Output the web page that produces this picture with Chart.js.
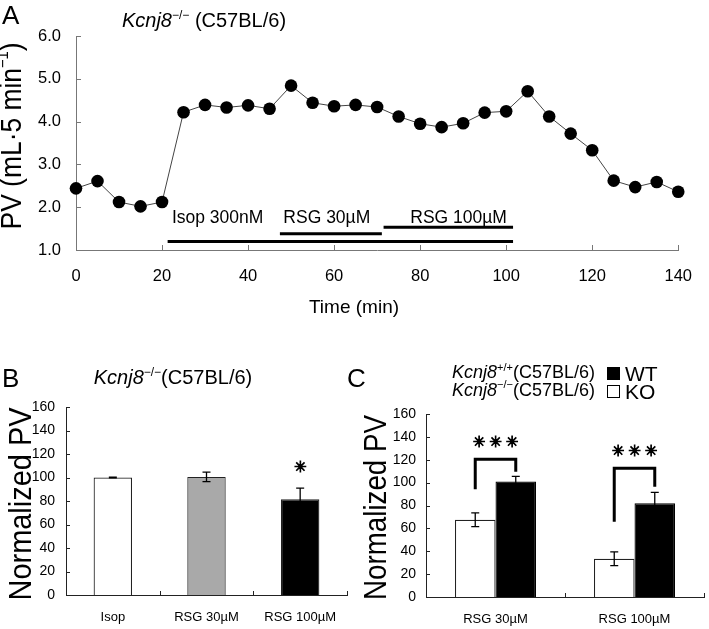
<!DOCTYPE html>
<html>
<head>
<meta charset="utf-8">
<script src="https://cdn.jsdelivr.net/npm/chart.js@4.4.0/dist/chart.umd.min.js"></script>
<style>
  body { margin: 0; background: #fff; width: 709px; height: 629px; position: relative; overflow: hidden; }
  canvas { position: absolute; }
  #chartA { left: 0; top: 0; }
  #chartB { left: 0; top: 300px; }
  #chartC { left: 340px; top: 300px; }
</style>
</head>
<body>
<canvas id="chartA" width="709" height="330"></canvas>
<canvas id="chartB" width="355" height="329"></canvas>
<canvas id="chartC" width="369" height="329"></canvas>
<script>
// panel A: perfusion volume over time
const times = [0, 5, 10, 15, 20, 25, 30, 35, 40, 45, 50, 55, 60, 65, 70, 75, 80, 85, 90, 95, 100, 105, 110, 115, 120, 125, 130, 135, 140];
const pv = [2.44, 2.61, 2.12, 2.02, 2.12, 4.22, 4.39, 4.33, 4.38, 4.30, 4.84, 4.44, 4.36, 4.39, 4.34, 4.12, 3.95, 3.87, 3.96, 4.21, 4.24, 4.71, 4.12, 3.72, 3.33, 2.62, 2.47, 2.59, 2.36];

// drug application periods (min)
const treatLabels = ['Isop 300nM', 'RSG 30µM', 'RSG 100µM'];
const treatStart = [21.3, 47.4, 71.5];
const treatEnd = [101.6, 71.1, 101.6];

// panel B
const bCats = ['Isop', 'RSG 30µM', 'RSG 100µM'];
const bMean = [100, 100.5, 81.5];
const bSem = [0.4, 4, 9.5];
const bSig = ['', '', '*'];

// panel C
const cCats = ['RSG 30µM', 'RSG 100µM'];
const koMean = [67.5, 33.5];
const koSem = [6, 6];
const wtMean = [101, 82];
const wtSem = [4.5, 9.5];

const FONT = "'Liberation Sans', Arial, sans-serif";
Chart.defaults.font.family = FONT;
Chart.defaults.color = '#000';

function rich(ctx, parts, x, y, align) {
  ctx.save();
  ctx.textBaseline = 'alphabetic';
  ctx.textAlign = 'left';
  ctx.fillStyle = '#000';
  let w = 0;
  parts.forEach(p => { ctx.font = p.f; p.w = ctx.measureText(p.t).width; w += p.w; });
  let sx = align === 'center' ? x - w / 2 : align === 'right' ? x - w : x;
  parts.forEach(p => { ctx.font = p.f; ctx.fillText(p.t, sx, y + (p.dy || 0)); sx += p.w; });
  ctx.restore();
}

// rotated title, stretched to a given length
function vTitle(ctx, parts, cx, cy, len) {
  ctx.save();
  ctx.translate(cx, cy);
  ctx.rotate(-Math.PI / 2);
  let w = 0;
  parts.forEach(p => { ctx.font = p.f; p.w = ctx.measureText(p.t).width; w += p.w; });
  ctx.scale(len / w, 1);
  ctx.fillStyle = '#000';
  ctx.textBaseline = 'middle';
  let sx = -w / 2;
  parts.forEach(p => { ctx.font = p.f; ctx.fillText(p.t, sx, p.dy || 0); sx += p.w; });
  ctx.restore();
}

function gene(size, sup) {
  return [
    { t: 'Kcnj8', f: 'italic ' + size + 'px ' + FONT },
    { t: sup, f: Math.round(size * 0.6) + 'px ' + FONT, dy: -size * 0.4 }
  ];
}

const innerTicks = {
  id: 'innerTicks',
  afterDraw(chart, args, opts) {
    const ctx = chart.ctx;
    const { left, right, bottom } = chart.chartArea;
    const xs = chart.scales.x, ys = chart.scales.y;
    ctx.save();
    ctx.strokeStyle = opts.color;
    ctx.lineWidth = 1;
    ctx.beginPath();
    ys.ticks.forEach(t => {
      const y = Math.round(ys.getPixelForValue(t.value)) + 0.5;
      ctx.moveTo(left, y); ctx.lineTo(left + opts.len, y);
    });
    if (xs.type === 'category') {
      const half = (right - left) / xs.ticks.length / 2;
      xs.ticks.forEach((t, i) => {
        const x = Math.round(xs.getPixelForTick(i) + half) + 0.5;
        ctx.moveTo(x, bottom); ctx.lineTo(x, bottom - opts.len);
      });
    } else {
      xs.ticks.forEach(t => {
        const x = Math.round(xs.getPixelForValue(t.value)) + 0.5;
        ctx.moveTo(x, bottom); ctx.lineTo(x, bottom - opts.len);
      });
    }
    ctx.stroke();
    ctx.restore();
  }
};

const errorBars = {
  id: 'errorBars',
  afterDatasetsDraw(chart, args, opts) {
    const ctx = chart.ctx, ys = chart.scales.y;
    ctx.save();
    ctx.strokeStyle = '#000';
    ctx.lineWidth = 1.3;
    chart.data.datasets.forEach((ds, di) => {
      chart.getDatasetMeta(di).data.forEach((bar, i) => {
        const m = ds.data[i], e = ds.sem[i];
        const yt = ys.getPixelForValue(m + e), yb = ys.getPixelForValue(m - e);
        ctx.beginPath();
        ctx.moveTo(bar.x, yt); ctx.lineTo(bar.x, yb);
        ctx.moveTo(bar.x - 4, yt); ctx.lineTo(bar.x + 4, yt);
        ctx.moveTo(bar.x - 4, yb); ctx.lineTo(bar.x + 4, yb);
        ctx.stroke();
      });
    });
    ctx.restore();
  }
};

function stars(ctx, n, x, y) {
  ctx.save();
  ctx.font = '15px "DejaVu Sans"';
  ctx.textAlign = 'center';
  ctx.textBaseline = 'middle';
  ctx.fillStyle = '#000';
  ctx.strokeStyle = '#000';
  ctx.lineWidth = 0.9;
  for (let i = 0; i < n; i++) {
    const sx = x + (i - (n - 1) / 2) * 16.5;
    ctx.fillText('✳', sx, y);
    ctx.strokeText('✳', sx, y);
  }
  ctx.restore();
}

// ---------- A ----------
const panelA = {
  id: 'panelA',
  afterDraw(chart) {
    const ctx = chart.ctx, xs = chart.scales.x, ys = chart.scales.y;
    const levels = [1.20, 1.38, 1.53];
    const labelX = [22.3, 48.2, 77.7];
    ctx.save();
    ctx.strokeStyle = '#000';
    ctx.lineWidth = 3;
    treatLabels.forEach((lab, i) => {
      const y = ys.getPixelForValue(levels[i]);
      ctx.beginPath();
      ctx.moveTo(xs.getPixelForValue(treatStart[i]), y);
      ctx.lineTo(xs.getPixelForValue(treatEnd[i]), y);
      ctx.stroke();
      rich(ctx, [{ t: lab, f: '17.5px ' + FONT }], xs.getPixelForValue(labelX[i]), ys.getPixelForValue(1.78) + 6.3, 'left');
    });
    ctx.restore();
    rich(ctx, [{ t: 'A', f: '26px ' + FONT }], 2, 24, 'left');
    rich(ctx, gene(20, '−/−').concat([{ t: ' (C57BL/6)', f: '20px ' + FONT }]), 204, 27, 'center');
    rich(ctx, [{ t: 'Time (min)', f: '19px ' + FONT }], 354, 312.5, 'center');
    vTitle(ctx, [
      { t: 'PV (mL·5 min', f: '29px ' + FONT },
      { t: '−1', f: '16px ' + FONT, dy: -9 },
      { t: ')', f: '29px ' + FONT }
    ], 13, 136, 187);
  }
};

new Chart(document.getElementById('chartA'), {
  type: 'line',
  data: {
    datasets: [{
      data: times.map((t, i) => ({ x: t, y: pv[i] })),
      borderColor: '#444',
      borderWidth: 1,
      pointRadius: 6.3,
      pointBackgroundColor: '#000',
      pointBorderColor: '#000',
      pointBorderWidth: 0,
      tension: 0,
      clip: false
    }]
  },
  options: {
    responsive: false,
    animation: false,
    events: [],
    layout: { padding: { top: 36, right: 26, left: 0, bottom: 0 } },
    plugins: { legend: { display: false }, tooltip: { enabled: false }, innerTicks: { len: 5, color: '#777' } },
    scales: {
      x: {
        type: 'linear', min: 0, max: 140,
        ticks: { stepSize: 20, padding: 17, font: { size: 16.5 }, maxRotation: 0 },
        grid: { display: false, drawTicks: false },
        border: { color: '#777', width: 1 },
        afterFit(s) { s.height = 80; }
      },
      y: {
        min: 1, max: 6,
        ticks: { stepSize: 1, padding: 15, font: { size: 16.5 }, callback: v => v.toFixed(1) },
        grid: { display: false, drawTicks: false },
        border: { color: '#777', width: 1 },
        afterFit(s) { s.width = 76; }
      }
    }
  },
  plugins: [innerTicks, panelA]
});

// ---------- B ----------
const panelB = {
  id: 'panelB',
  afterDraw(chart) {
    const ctx = chart.ctx, ys = chart.scales.y;
    const meta = chart.getDatasetMeta(0);
    bSig.forEach((s, i) => { if (s) stars(ctx, s.length, meta.data[i].x, ys.getPixelForValue(108)); });
    rich(ctx, [{ t: 'B', f: '26px ' + FONT }], 2, 87, 'left');
    rich(ctx, gene(20, '−/−').concat([{ t: '(C57BL/6)', f: '20px ' + FONT }]), 173, 84, 'center');
    vTitle(ctx, [{ t: 'Normalized PV', f: '31px ' + FONT }], 22, 204, 193);
  }
};

new Chart(document.getElementById('chartB'), {
  type: 'bar',
  data: {
    labels: bCats,
    datasets: [{
      data: bMean,
      sem: bSem,
      backgroundColor: ['#ffffff', '#a9a9a9', '#000000'],
      borderColor: '#222',
      borderWidth: 1.2,
      borderSkipped: 'bottom',
      barPercentage: 0.41,
      categoryPercentage: 1
    }]
  },
  options: {
    responsive: false,
    animation: false,
    events: [],
    layout: { padding: { top: 107, right: 8, left: 0, bottom: 0 } },
    plugins: { legend: { display: false }, tooltip: { enabled: false }, innerTicks: { len: 4, color: '#222' } },
    scales: {
      x: {
        ticks: { padding: 15, font: { size: 13 }, maxRotation: 0 },
        grid: { display: false, drawTicks: false },
        border: { color: '#222', width: 1 },
        afterFit(s) { s.height = 34; }
      },
      y: {
        min: 0, max: 160,
        ticks: { stepSize: 20, padding: 11, font: { size: 14 } },
        grid: { display: false, drawTicks: false },
        border: { color: '#222', width: 1 },
        afterFit(s) { s.width = 66; }
      }
    }
  },
  plugins: [innerTicks, errorBars, panelB]
});

// ---------- C ----------
const panelC = {
  id: 'panelC',
  afterDraw(chart) {
    const ctx = chart.ctx, ys = chart.scales.y;
    const ko = chart.getDatasetMeta(0).data, wt = chart.getDatasetMeta(1).data;
    const brLeft = [94.2, 65.8], brTop = [120.5, 112.6], brRight = [109.6, 96.5], starY = [134.4, 127];
    ctx.save();
    ctx.strokeStyle = '#000';
    ctx.lineWidth = 3;
    ko.forEach((b, i) => {
      ctx.beginPath();
      ctx.moveTo(b.x, ys.getPixelForValue(brLeft[i]));
      ctx.lineTo(b.x, ys.getPixelForValue(brTop[i]));
      ctx.lineTo(wt[i].x, ys.getPixelForValue(brTop[i]));
      ctx.lineTo(wt[i].x, ys.getPixelForValue(brRight[i]));
      ctx.stroke();
      stars(ctx, 3, (b.x + wt[i].x) / 2, ys.getPixelForValue(starY[i]));
    });
    ctx.restore();

    rich(ctx, [{ t: 'C', f: '26px ' + FONT }], 7, 87, 'left');
    rich(ctx, gene(18, '+/+').concat([{ t: '(C57BL/6)', f: '18px ' + FONT }]), 255, 78, 'right');
    rich(ctx, gene(18, '−/−').concat([{ t: '(C57BL/6)', f: '18px ' + FONT }]), 255, 95.6, 'right');
    ctx.save();
    ctx.fillStyle = '#000';
    ctx.fillRect(267, 67, 13, 13);
    ctx.strokeStyle = '#000';
    ctx.lineWidth = 1;
    ctx.strokeRect(267.5, 85.5, 12, 12);
    ctx.restore();
    rich(ctx, [{ t: 'WT', f: '21px ' + FONT }], 285, 81, 'left');
    rich(ctx, [{ t: 'KO', f: '21px ' + FONT }], 285, 98.5, 'left');
    vTitle(ctx, [{ t: 'Normalized PV', f: '31px ' + FONT }], 37, 207.5, 185);
  }
};

new Chart(document.getElementById('chartC'), {
  type: 'bar',
  data: {
    labels: cCats,
    datasets: [
      { label: 'KO', data: koMean, sem: koSem, backgroundColor: '#ffffff', borderColor: '#222', borderWidth: 1.2, borderSkipped: 'bottom' },
      { label: 'WT', data: wtMean, sem: wtSem, backgroundColor: '#000000', borderColor: '#000', borderWidth: 1.2, borderSkipped: 'bottom' }
    ]
  },
  options: {
    responsive: false,
    animation: false,
    events: [],
    datasets: { bar: { barPercentage: 1, categoryPercentage: 0.583 } },
    layout: { padding: { top: 114, right: 5, left: 0, bottom: 0 } },
    plugins: { legend: { display: false }, tooltip: { enabled: false }, innerTicks: { len: 4, color: '#222' } },
    scales: {
      x: {
        ticks: { padding: 15, font: { size: 13 }, maxRotation: 0 },
        grid: { display: false, drawTicks: false },
        border: { color: '#222', width: 1 },
        afterFit(s) { s.height = 32; }
      },
      y: {
        min: 0, max: 160,
        ticks: { stepSize: 20, padding: 10, font: { size: 14 } },
        grid: { display: false, drawTicks: false },
        border: { color: '#222', width: 1 },
        afterFit(s) { s.width = 86; }
      }
    }
  },
  plugins: [innerTicks, errorBars, panelC]
});
</script>
</body>
</html>
